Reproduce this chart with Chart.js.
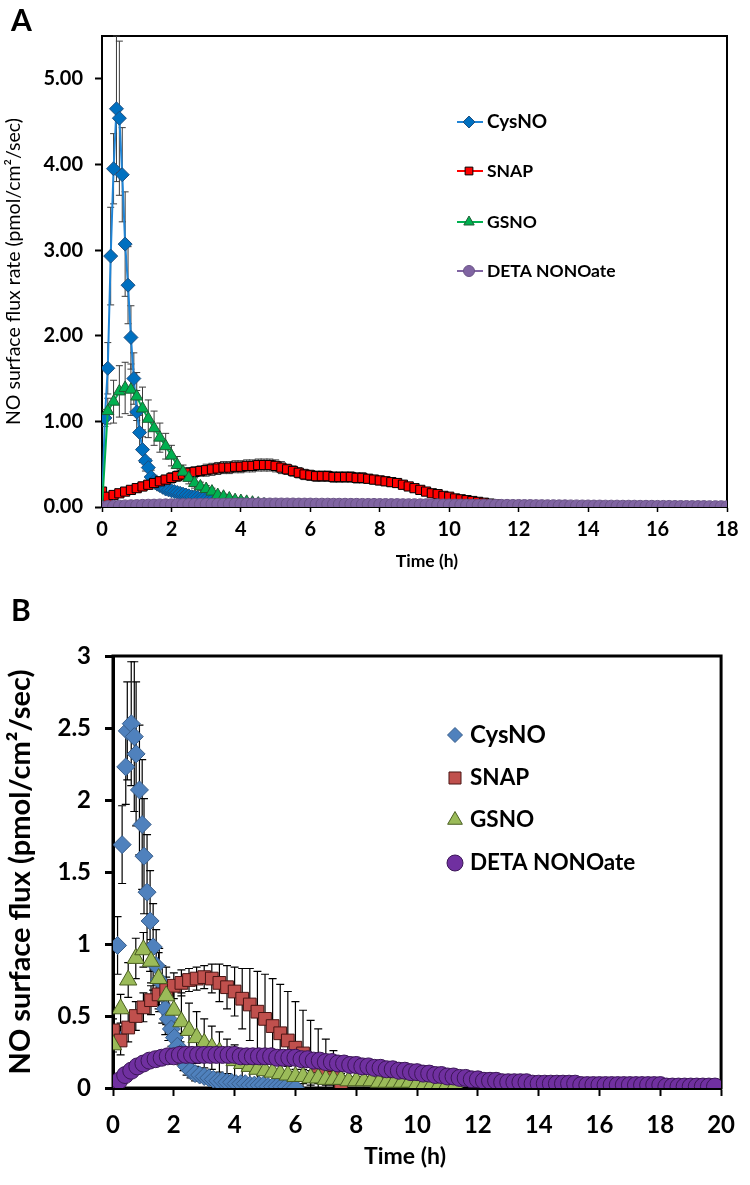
<!DOCTYPE html>
<html><head><meta charset="utf-8">
<script src="https://cdn.jsdelivr.net/npm/chart.js@4.4.1/dist/chart.umd.min.js"></script>
<style>
html,body{margin:0;padding:0;background:#fff;}
#wrap{position:relative;width:750px;height:1185px;overflow:hidden;}
.panel{position:absolute;left:0;width:750px;}
#pa{top:0;height:585px;}
#pb{top:585px;height:600px;}
.lab{position:absolute;font-family:Lato,"Open Sans",sans-serif;font-weight:bold;font-size:30px;color:#000;line-height:30px;}
</style></head>
<body><div id="wrap">
<div class="panel" id="pa"><canvas id="ca" width="750" height="585"></canvas></div>
<div class="panel" id="pb"><canvas id="cb" width="750" height="600"></canvas></div>
<div class="lab" style="left:11px;top:4px">A</div>
<div class="lab" style="left:11px;top:594px">B</div>
</div>
<script>
// ---------------- DATA ----------------
const seriesNames = ['CysNO', 'SNAP', 'GSNO', 'DETA NONOate'];
const xTitle = 'Time (h)';
const yTitleA = 'NO surface flux rate (pmol/cm\u00B2/sec)';
const yTitleB = 'NO surface flux (pmol/cm\u00B2/sec)';

// Panel A sampling times (minutes)
const timeA5 = [0,5,10,15,20,25,30,35,40,45,50,55,60,65,70,75,80,85,90,95,100,105,110,115,120,125,130,135,140,145,150,155,160,165,170,175,180,185,190,195,200,205,210,215,220,225,230,235,240,245,250,255,260];
const timeA10 = [0,10,20,30,40,50,60,70,80,90,100,110,120,130,140,150,160,170,180,190,200,210,220,230,240,250,260,270,280,290,300,310,320,330,340,350,360,370,380,390,400,410,420,430,440,450,460,470,480,490,500,510,520,530,540,550,560,570,580,590,600,610,620,630,640,650,660,670,680,690,700,710,720,730,740,750,760,770,780,790,800,810,820,830,840,850,860,870,880,890,900,910,920,930,940,950,960,970,980,990,1000,1010,1020,1030,1040,1050,1060,1070,1080];

const cysA = [0.00,1.04,1.62,2.93,3.95,4.65,4.54,3.88,3.07,2.59,1.98,1.50,1.11,0.87,0.67,0.54,0.46,0.35,0.30,0.27,0.25,0.23,0.21,0.20,0.19,0.18,0.17,0.16,0.15,0.14,0.13,0.12,0.12,0.11,0.10,0.10,0.09,0.08,0.08,0.07,0.07,0.06,0.06,0.05,0.05,0.04,0.04,0.03,0.03,0.03,0.02,0.02,0.01];
const cysAErr = [0,0.10,0.30,0.57,0.41,0.85,0.90,0.55,0.61,0.45,0.37,0.30,0.25,0.20,0.15,0.12,0.10,0.08,0.07,0.06,0.06,0.05,0.05,0.05,0.04,0.04,0.04,0.04,0.03,0.03,0.03,0.03,0.03,0.03,0.02,0.02,0.02,0.02,0.02,0.02,0.02,0.02,0.02,0.01,0.01,0.01,0.01,0.01,0.01,0.01,0.01,0.01,0.01];

const snapA = [0.18,0.12,0.14,0.16,0.18,0.20,0.22,0.24,0.26,0.28,0.30,0.32,0.34,0.36,0.38,0.40,0.41,0.42,0.43,0.44,0.45,0.46,0.46,0.47,0.47,0.48,0.48,0.49,0.49,0.49,0.48,0.46,0.44,0.42,0.40,0.38,0.37,0.36,0.36,0.36,0.35,0.35,0.35,0.35,0.34,0.34,0.33,0.32,0.31,0.30,0.29,0.28,0.26,0.24,0.22,0.20,0.18,0.16,0.15,0.13,0.12,0.10,0.09,0.08,0.07,0.06,0.05,0.04,0.03,0.02,0.02,0.01,0.01];
const snapAErr = [0.04,0.04,0.04,0.04,0.04,0.04,0.05,0.05,0.05,0.05,0.05,0.05,0.06,0.06,0.06,0.06,0.06,0.06,0.07,0.07,0.07,0.07,0.07,0.07,0.07,0.07,0.07,0.07,0.07,0.07,0.07,0.07,0.06,0.06,0.06,0.06,0.06,0.06,0.06,0.06,0.06,0.06,0.06,0.06,0.06,0.06,0.05,0.05,0.05,0.05,0.05,0.05,0.05,0.04,0.04,0.04,0.04,0.04,0.03,0.03,0.03,0.03,0.03,0.02,0.02,0.02,0.02,0.02,0.01,0.01,0.01,0.01,0.01];

const gsnoA = [0.00,1.12,1.23,1.35,1.39,1.37,1.29,1.15,1.03,0.92,0.81,0.71,0.60,0.49,0.41,0.34,0.28,0.24,0.21,0.18,0.14,0.12,0.10,0.08,0.07,0.06,0.05,0.04,0.03,0.02,0.02,0.01,0.01,0.00,0.00];
const gsnoAErr = [0,0.15,0.25,0.30,0.30,0.30,0.28,0.25,0.22,0.20,0.17,0.15,0.12,0.10,0.08,0.07,0.06,0.05,0.04,0.04,0.03,0.03,0.02,0.02,0.02,0.02,0.01,0.01,0.01,0.01,0.01,0.01,0.01,0,0];

const detaA = [0.000,0.005,0.008,0.010,0.013,0.015,0.017,0.019,0.021,0.022,0.024,0.025,0.026,0.027,0.028,0.029,0.030,0.031,0.031,0.032,0.032,0.033,0.033,0.034,0.034,0.034,0.035,0.035,0.035,0.035,0.035,0.035,0.035,0.035,0.034,0.034,0.034,0.033,0.033,0.033,0.032,0.032,0.032,0.031,0.031,0.030,0.030,0.030,0.029,0.029,0.028,0.028,0.027,0.027,0.027,0.026,0.026,0.025,0.025,0.024,0.024,0.023,0.023,0.022,0.022,0.021,0.021,0.020,0.020,0.019,0.019,0.018,0.018,0.017,0.017,0.016,0.016,0.015,0.015,0.014,0.014,0.013,0.013,0.012,0.012,0.011,0.011,0.010,0.010,0.010,0.009,0.009,0.009,0.008,0.008,0.008,0.007,0.007,0.007,0.006,0.006,0.006,0.005,0.005,0.005,0.004,0.004,0.004,0.003];

// Panel B sampling times
const timeB15 = [0,15,30,45,60,75,90,105,120,135,150,165,180,195,210,225,240,255,270,285,300,315,330,345,360,375,390,405,420,435,450,465,480,495,510,525,540,555,570,585,600,615,630,645,660,675];
const timeB12 = [0,12,24,36,48,60,72,84,96,108,120,132,144,156,168,180,192,204,216,228,240,252,264,276,288,300,312,324,336,348,360,372,384,396,408,420,432,444,456,468,480,492,504,516,528,540,552,564,576,588,600,612,624,636,648,660,672,684,696,708,720,732,744,756,768,780,792,804,816,828,840,852,864,876,888,900,912,924,936,948,960,972,984,996,1008,1020,1032,1044,1056,1068,1080,1092,1104,1116,1128,1140,1152,1164,1176,1188];
const cysTimeB = [0.00,0.15,0.30,0.42,0.47,0.60,0.70,0.76,0.87,0.96,1.02,1.12,1.22,1.32,1.42,1.52,1.62,1.72,1.82,1.92,2.02,2.12,2.22,2.32,2.42,2.55,2.70,2.85,3.00,3.15,3.30,3.45,3.60,3.75,3.90,4.05,4.20,4.35,4.50,4.65,4.80,4.95,5.10,5.25,5.40,5.55,5.70,5.85,6.00];

const cysB = [0.38,0.99,1.69,2.23,2.48,2.53,2.44,2.32,2.07,1.83,1.61,1.36,1.16,0.98,0.85,0.75,0.65,0.55,0.48,0.41,0.35,0.29,0.24,0.19,0.15,0.12,0.10,0.09,0.08,0.07,0.06,0.05,0.05,0.04,0.04,0.03,0.03,0.03,0.02,0.02,0.02,0.02,0.01,0.01,0.01,0.01,0.01,0.00,0.00];
const cysBErr = [0.10,0.20,0.27,0.26,0.34,0.43,0.52,0.50,0.45,0.45,0.40,0.40,0.35,0.30,0.25,0.22,0.20,0.18,0.15,0.12,0.10,0.09,0.08,0.07,0.06,0.05,0.05,0.04,0.04,0.03,0.03,0.03,0.03,0.02,0.02,0.02,0.02,0.02,0.02,0.01,0.01,0.01,0.01,0.01,0.01,0.01,0.01,0.01,0.01];

const snapB = [0.40,0.33,0.42,0.50,0.56,0.61,0.65,0.68,0.71,0.73,0.75,0.76,0.77,0.76,0.73,0.70,0.67,0.62,0.58,0.53,0.48,0.43,0.38,0.33,0.28,0.24,0.19,0.15,0.11,0.07,0.04];
const snapBErr = [0.12,0.10,0.10,0.10,0.10,0.10,0.10,0.09,0.09,0.09,0.08,0.08,0.08,0.10,0.13,0.15,0.17,0.21,0.25,0.28,0.31,0.33,0.34,0.34,0.32,0.30,0.28,0.26,0.23,0.19,0.15];

const gsnoB = [0.30,0.55,0.75,0.90,0.96,0.88,0.76,0.64,0.54,0.46,0.40,0.35,0.31,0.28,0.25,0.22,0.19,0.17,0.15,0.13,0.12,0.11,0.10,0.09,0.08,0.08,0.07,0.07,0.06,0.06,0.06,0.05,0.05,0.05,0.05,0.04,0.04,0.04,0.04,0.04,0.03,0.03,0.03,0.03,0.03,0.02];
const gsnoBErr = [0.05,0.10,0.12,0.14,0.12,0.15,0.18,0.20,0.20,0.20,0.19,0.18,0.17,0.15,0.14,0.12,0.11,0.10,0.09,0.08,0.07,0.07,0.06,0.06,0.05,0.05,0.05,0.04,0.04,0.04,0.04,0.03,0.03,0.03,0.03,0.03,0.03,0.03,0.02,0.02,0.02,0.02,0.02,0.02,0.02,0.02];

const detaB = [0.02,0.05,0.09,0.12,0.15,0.17,0.19,0.20,0.21,0.22,0.22,0.23,0.23,0.23,0.23,0.23,0.23,0.23,0.23,0.23,0.23,0.22,0.22,0.22,0.22,0.22,0.22,0.21,0.21,0.21,0.21,0.20,0.20,0.19,0.19,0.18,0.18,0.17,0.17,0.16,0.16,0.15,0.15,0.14,0.14,0.13,0.13,0.12,0.12,0.11,0.11,0.10,0.10,0.09,0.09,0.08,0.08,0.07,0.07,0.06,0.06,0.05,0.05,0.05,0.04,0.04,0.04,0.04,0.04,0.03,0.03,0.03,0.03,0.03,0.03,0.03,0.03,0.02,0.02,0.02,0.02,0.02,0.02,0.02,0.02,0.02,0.02,0.02,0.02,0.02,0.02,0.01,0.01,0.01,0.01,0.01,0.01,0.01,0.01,0.01];
const detaBErr = [0.01,0.01,0.02,0.02,0.02,0.02,0.03,0.03,0.03,0.03,0.03,0.03,0.03,0.03,0.03,0.03,0.03,0.03,0.03,0.03,0.03,0.03,0.03,0.03,0.03,0.03,0.03,0.03,0.03,0.03,0.03,0.03,0.03,0.03,0.03,0.03,0.03,0.03,0.03,0.03,0.03,0.03,0.03,0.03,0.03,0.03,0.02,0.02,0.02,0.02,0.02,0.02,0.02,0.02,0.02,0.02,0.02,0.02,0.02,0.02];

// ---------------- HELPERS ----------------
const FONT = 'Lato, "Open Sans", sans-serif';
function ptsMin(times, vals){ return vals.map((v,i)=>({x: times[i]/60, y: v})); }
function ptsHr(times, vals){ return vals.map((v,i)=>({x: times[i], y: v})); }

function errorBarPlugin(color, width, cap){
  return {
    id: 'errorBars',
    beforeDatasetsDraw(chart){
      const {ctx, chartArea: a, scales: {x, y}} = chart;
      ctx.save();
      ctx.beginPath(); ctx.rect(a.left, a.top - 1, a.right - a.left, a.bottom - a.top + 1); ctx.clip();
      ctx.strokeStyle = color; ctx.lineWidth = width;
      chart.data.datasets.slice().reverse().forEach(ds => {
        if (!ds.errors) return;
        ds.data.forEach((p, i) => {
          const e = ds.errors[i]; if (!e) return;
          const px = x.getPixelForValue(p.x);
          const y1 = y.getPixelForValue(p.y + e), y2 = y.getPixelForValue(p.y - e);
          ctx.beginPath();
          ctx.moveTo(px, y1); ctx.lineTo(px, y2);
          ctx.moveTo(px - cap, y1); ctx.lineTo(px + cap, y1);
          ctx.moveTo(px - cap, y2); ctx.lineTo(px + cap, y2);
          ctx.stroke();
        });
      });
      ctx.restore();
    }
  };
}
function framePlugin(width){
  return {
    id: 'frame',
    beforeDatasetsDraw(chart){
      const {ctx, chartArea: a} = chart;
      ctx.save(); ctx.strokeStyle = '#000'; ctx.lineWidth = width;
      ctx.strokeRect(a.left, a.top, a.right - a.left, a.bottom - a.top);
      ctx.restore();
    }
  };
}
function xTitlePlugin(text, cx, cy, size){
  return {
    id: 'xTitle',
    afterDraw(chart){
      const ctx = chart.ctx;
      ctx.save(); ctx.fillStyle = '#000';
      ctx.font = 'bold ' + size + 'px ' + FONT;
      ctx.textAlign = 'center'; ctx.textBaseline = 'middle';
      ctx.fillText(text, cx, cy);
      ctx.restore();
    }
  };
}
function legendPlugin(cfg){
  return {
    id: 'customLegend',
    afterDraw(chart){
      const ctx = chart.ctx;
      chart.data.datasets.forEach((ds, i) => {
        const y = cfg.ys[i];
        ctx.save();
        if (cfg.line) {
          ctx.strokeStyle = ds.borderColor; ctx.lineWidth = 2;
          ctx.beginPath(); ctx.moveTo(cfg.lineX0, y); ctx.lineTo(cfg.lineX1, y); ctx.stroke();
        }
        ctx.fillStyle = ds.pointBackgroundColor; ctx.strokeStyle = ds.pointBorderColor;
        ctx.lineWidth = 1;
        Chart.helpers.drawPoint(ctx, {pointStyle: ds.pointStyle, radius: cfg.radius[i], borderWidth: 1, rotation: 0}, cfg.markerX, y);
        ctx.fillStyle = '#000';
        ctx.font = 'bold ' + cfg.sizes[i] + 'px ' + FONT;
        ctx.textAlign = 'left'; ctx.textBaseline = 'middle';
        ctx.fillText(ds.label, cfg.textX, y);
        ctx.restore();
      });
    }
  };
}

// ---------------- CHART A ----------------
new Chart(document.getElementById('ca'), {
  type: 'line',
  data: { datasets: [
    { label: seriesNames[0], data: ptsMin(timeA5, cysA), errors: cysAErr, order: 4,
      borderColor: '#1f84d6', borderWidth: 2, pointStyle: 'rectRot', pointRadius: 7,
      pointBackgroundColor: '#0070C0', pointBorderColor: '#1d4f80', pointBorderWidth: 1 },
    { label: seriesNames[1], data: ptsMin(timeA10, snapA), errors: snapAErr, order: 3,
      borderColor: '#FF0000', borderWidth: 2, pointStyle: 'rect', pointRadius: 6.5,
      pointBackgroundColor: '#FF0000', pointBorderColor: '#000000', pointBorderWidth: 1 },
    { label: seriesNames[2], data: ptsMin(timeA10, gsnoA), errors: gsnoAErr, order: 2,
      borderColor: '#00B050', borderWidth: 2, pointStyle: 'triangle', pointRadius: 7,
      pointBackgroundColor: '#00B050', pointBorderColor: '#1e5c34', pointBorderWidth: 1 },
    { label: seriesNames[3], data: ptsMin(timeA10, detaA), order: 1,
      borderColor: '#8064A2', borderWidth: 2, pointStyle: 'circle', pointRadius: 6,
      pointBackgroundColor: '#8064A2', pointBorderColor: '#6a5486', pointBorderWidth: 1 }
  ]},
  options: {
    responsive: false, animation: false, devicePixelRatio: 1,
    layout: { padding: { left: 0, top: 36, right: 23, bottom: 0 } },
    plugins: { legend: { display: false }, tooltip: { enabled: false } },
    elements: { line: { tension: 0 } },
    scales: {
      x: { type: 'linear', min: 0, max: 18,
        ticks: { stepSize: 2, color: '#000', font: { family: FONT, weight: 'bold', size: 20 }, padding: 6, maxRotation: 0 },
        grid: { drawOnChartArea: false, drawTicks: true, tickLength: 5, tickColor: '#000', tickWidth: 1.5 },
        border: { display: true, color: '#000', width: 2 },
        title: { display: false },
        afterFit(s) { s.height = 78; }
      },
      y: { type: 'linear', min: 0, max: 5.5,
        ticks: { stepSize: 1, includeBounds: false, color: '#000', font: { family: FONT, weight: 'bold', size: 20 }, padding: 12, callback: v => Number(v).toFixed(2) },
        grid: { drawOnChartArea: false, drawTicks: true, tickLength: 7, tickColor: '#000', tickWidth: 2 },
        border: { display: true, color: '#000', width: 2 },
        title: { display: true, text: yTitleA, color: '#000', font: { family: FONT, weight: 'normal', size: 19.5 }, padding: { top: 2, bottom: 0 } },
        afterFit(s) { s.width = 102; }
      }
    }
  },
  plugins: [framePlugin(2), errorBarPlugin('#3a3a3a', 1, 3.5), xTitlePlugin(xTitle, 427, 561, 17.5),
    legendPlugin({ line: true, lineX0: 457, lineX1: 483, markerX: 469, textX: 487, ys: [122, 171, 222, 271], radius: [6, 5.5, 6, 5.5], sizes: [19, 17.5, 17.5, 17.5] })]
});

// ---------------- CHART B ----------------
new Chart(document.getElementById('cb'), {
  type: 'line',
  data: { datasets: [
    { label: seriesNames[0], data: ptsHr(cysTimeB, cysB), errors: cysBErr, order: 4, showLine: false,
      borderColor: '#4F81BD', pointStyle: 'rectRot', pointRadius: 9,
      pointBackgroundColor: '#4F81BD', pointBorderColor: '#385D8A', pointBorderWidth: 1 },
    { label: seriesNames[1], data: ptsMin(timeB15, snapB), errors: snapBErr, order: 3, showLine: false,
      borderColor: '#C0504D', pointStyle: 'rect', pointRadius: 9,
      pointBackgroundColor: '#C0504D', pointBorderColor: '#4a1514', pointBorderWidth: 1 },
    { label: seriesNames[2], data: ptsMin(timeB15, gsnoB), errors: gsnoBErr, order: 2, showLine: false,
      borderColor: '#9BBB59', pointStyle: 'triangle', pointRadius: 10,
      pointBackgroundColor: '#9BBB59', pointBorderColor: '#4a5e22', pointBorderWidth: 1 },
    { label: seriesNames[3], data: ptsMin(timeB12, detaB), errors: detaBErr, order: 1, showLine: false,
      borderColor: '#7030A0', pointStyle: 'circle', pointRadius: 8.5,
      pointBackgroundColor: '#7030A0', pointBorderColor: '#3b1656', pointBorderWidth: 1 }
  ]},
  options: {
    responsive: false, animation: false, devicePixelRatio: 1,
    layout: { padding: { left: 0, top: 71, right: 17, bottom: 0 } },
    plugins: { legend: { display: false }, tooltip: { enabled: false } },
    scales: {
      x: { type: 'linear', min: 0, max: 20,
        ticks: { stepSize: 2, color: '#000', font: { family: FONT, weight: 'bold', size: 24 }, padding: 15, maxRotation: 0 },
        grid: { drawOnChartArea: false, drawTicks: true, tickLength: 8, tickColor: '#000', tickWidth: 2 },
        border: { display: true, color: '#000', width: 3 },
        title: { display: false },
        afterFit(s) { s.height = 97; }
      },
      y: { type: 'linear', min: 0, max: 3,
        ticks: { stepSize: 0.5, color: '#000', font: { family: FONT, weight: 'bold', size: 24 }, padding: 14, callback: v => String(Math.round(v * 10) / 10) },
        grid: { drawOnChartArea: false, drawTicks: true, tickLength: 8, tickColor: '#000', tickWidth: 3 },
        border: { display: true, color: '#000', width: 3 },
        title: { display: true, text: yTitleB, color: '#000', font: { family: FONT, weight: 'bold', size: 29 }, padding: { top: 3, bottom: 0 } },
        afterFit(s) { s.width = 113; }
      }
    }
  },
  plugins: [framePlugin(3), errorBarPlugin('#000', 1.2, 4), xTitlePlugin(xTitle, 405, 572, 23),
    legendPlugin({ line: false, markerX: 455, textX: 470, ys: [150, 193, 235, 278], radius: [7.5, 8.5, 8.5, 8], sizes: [24, 22.5, 22.5, 22.5] })]
});
</script>
</body></html>
